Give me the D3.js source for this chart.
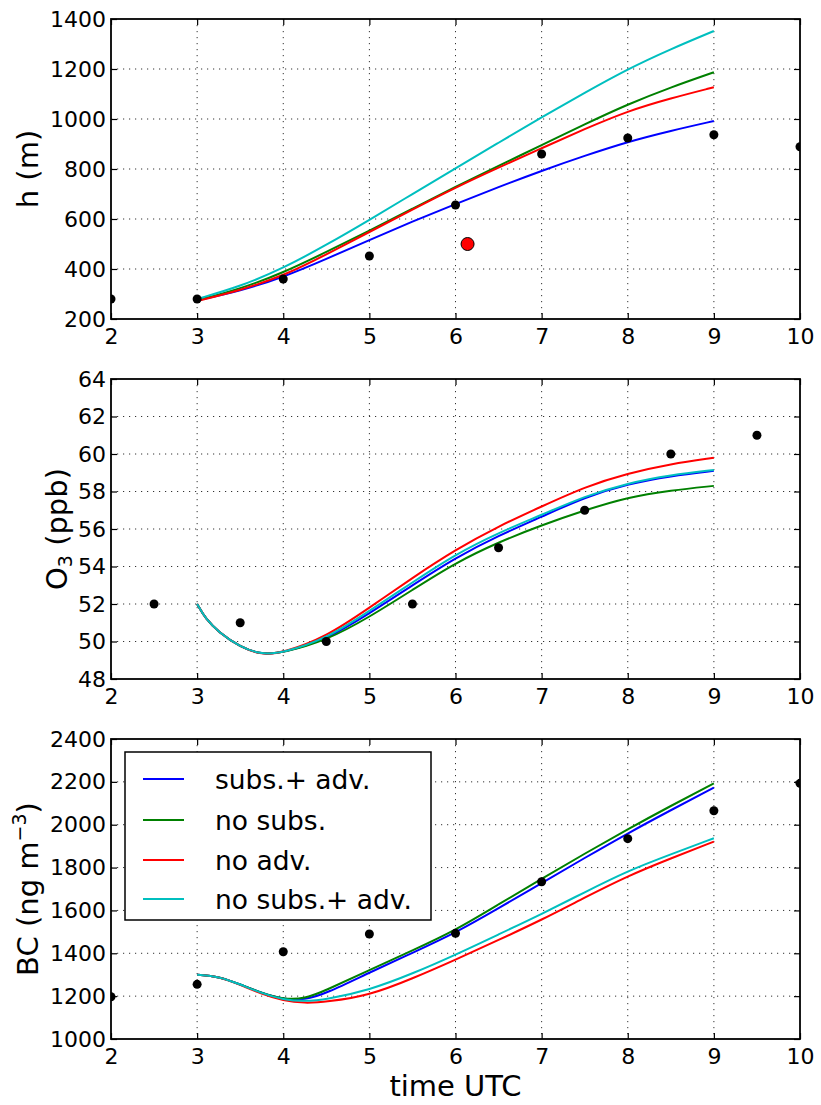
<!DOCTYPE html>
<html><head><meta charset="utf-8">
<script src="https://cdn.jsdelivr.net/npm/d3@7"></script>
<style>html,body{margin:0;padding:0;background:#fff;}svg{display:block;}text{font-family:"DejaVu Sans",sans-serif;fill:#000;}</style>
</head><body>
<script>
// ---------- data ----------
const seriesNames = ["subs.+ adv.", "no subs.", "no adv.", "no subs.+ adv."];
const seriesColors = ["#0000ff", "#008000", "#ff0000", "#00bfbf"];

// Panel 1: boundary-layer height h (m)
const hTimes = [3, 3.5, 4, 4.5, 5, 5.5, 6, 6.5, 7, 7.5, 8, 8.5, 9];
const hBlue  = [275, 312, 367, 440, 516, 590, 660, 728, 793, 853, 909, 953, 992];
const hGreen = [275, 320, 385, 468, 553, 641, 729, 813, 895, 979, 1059, 1127, 1187];
const hRed   = [272, 315, 372, 458, 548, 638, 726, 806, 883, 960, 1032, 1083, 1127];
const hCyan  = [280, 330, 403, 496, 596, 700, 803, 905, 1007, 1105, 1200, 1280, 1352];
const hObsT  = [2, 3, 4, 5, 6, 7, 8, 9, 10];
const hObs   = [280, 280, 360, 452, 656, 860, 924, 937, 889];
const hMarkT = [6.14];
const hMark  = [500];
const hTicks = [200, 400, 600, 800, 1000, 1200, 1400];

// Panel 2: O3 (ppb)
const oTimes = [3, 3.1, 3.25, 3.5, 3.75, 4, 4.5, 5, 5.5, 6, 6.5, 7, 7.5, 8, 8.5, 9];
const oBlue  = [52.0, 51.2, 50.5, 49.7, 49.3, 49.4, 50.1, 51.5, 53.0, 54.47, 55.65, 56.65, 57.7, 58.4, 58.83, 59.1];
const oGreen = [52.0, 51.2, 50.5, 49.7, 49.3, 49.4, 50.05, 51.3, 52.75, 54.2, 55.3, 56.2, 57.0, 57.7, 58.06, 58.3];
const oRed   = [52.0, 51.2, 50.5, 49.7, 49.28, 49.4, 50.25, 51.8, 53.4, 54.9, 56.15, 57.2, 58.25, 58.97, 59.47, 59.8];
const oCyan  = [52.0, 51.2, 50.5, 49.7, 49.3, 49.4, 50.15, 51.63, 53.15, 54.65, 55.8, 56.75, 57.75, 58.45, 58.88, 59.15];
const oObsT  = [2.5, 3.5, 4.5, 5.5, 6.5, 7.5, 8.5, 9.5];
const oObs   = [52, 51, 50, 52, 55, 57, 60, 61];
const oTicks = [48, 50, 52, 54, 56, 58, 60, 62, 64];

// Panel 3: BC (ng m-3)
const bTimes = [3, 3.25, 3.5, 3.75, 4, 4.25, 4.5, 5, 5.5, 6, 6.5, 7, 7.5, 8, 8.5, 9];
const bBlue  = [1300, 1292, 1255, 1215, 1185, 1182, 1213, 1310, 1402, 1495, 1610, 1728, 1845, 1960, 2068, 2173];
const bGreen = [1300, 1292, 1255, 1215, 1185, 1187, 1228, 1322, 1413, 1507, 1628, 1748, 1865, 1979, 2088, 2193];
const bRed   = [1300, 1292, 1253, 1210, 1178, 1167, 1173, 1203, 1282, 1370, 1462, 1556, 1660, 1761, 1843, 1921];
const bCyan  = [1300, 1292, 1255, 1213, 1183, 1175, 1185, 1228, 1305, 1393, 1488, 1583, 1685, 1785, 1862, 1937];
const bObsT  = [2, 3, 4, 5, 6, 7, 8, 9, 10];
const bObs   = [1197, 1255, 1407, 1490, 1493, 1734, 1935, 2065, 2193];
const bTicks = [1000, 1200, 1400, 1600, 1800, 2000, 2200, 2400];

const xTicks = [2, 3, 4, 5, 6, 7, 8, 9, 10];

// ---------- layout ----------
const W = 821, H = 1105;
const L = 111, R = 800, PH = 300;
const tops = [19, 379, 739];

const svg = d3.select("body").append("svg").attr("width", W).attr("height", H);
const x = d3.scaleLinear().domain([2, 10]).range([0, R - L]);
const line = (xs, ys, yScale) => d3.line().curve(d3.curveBasis)
  .x((d, i) => x(xs[i])).y(d => yScale(d))(ys);

const panels = [
  {top: tops[0], dom: [200, 1400], ticks: hTicks, times: hTimes, ser: [hBlue, hGreen, hRed, hCyan],
   obsT: hObsT, obs: hObs, label: "h", labelX: 28},
  {top: tops[1], dom: [48, 64], ticks: oTicks, times: oTimes, ser: [oBlue, oGreen, oRed, oCyan],
   obsT: oObsT, obs: oObs, label: "o3", labelX: 57},
  {top: tops[2], dom: [1000, 2400], ticks: bTicks, times: bTimes, ser: [bBlue, bGreen, bRed, bCyan],
   obsT: bObsT, obs: bObs, label: "bc", labelX: 28}
];

panels.forEach((p, pi) => {
  const y = d3.scaleLinear().domain(p.dom).range([PH, 0]);
  const g = svg.append("g").attr("transform", `translate(${L},${p.top})`);
  const cid = "clip" + pi;
  g.append("clipPath").attr("id", cid).append("rect").attr("width", R - L).attr("height", PH);

  // grid
  const grid = g.append("g").attr("stroke", "#333").attr("stroke-width", 1).attr("stroke-dasharray", "1.2,4.8");
  grid.selectAll(".gx").data(xTicks.slice(1, -1)).join("line")
    .attr("x1", d => x(d)).attr("x2", d => x(d)).attr("y1", 0).attr("y2", PH);
  grid.selectAll(".gy").data(p.ticks.slice(1, -1)).join("line")
    .attr("y1", d => y(d)).attr("y2", d => y(d)).attr("x1", 0).attr("x2", R - L);

  // series lines
  const lg = g.append("g").attr("clip-path", `url(#${cid})`);
  p.ser.forEach((s, si) => {
    lg.append("path").attr("d", line(p.times, s, y)).attr("fill", "none")
      .attr("stroke", seriesColors[si]).attr("stroke-width", 2);
  });
  // observations
  lg.selectAll(".obs").data(p.obs).join("circle")
    .attr("cx", (d, i) => x(p.obsT[i])).attr("cy", d => y(d)).attr("r", 4.5).attr("fill", "#000");
  if (pi === 0) {
    lg.selectAll(".mark").data(hMark).join("circle")
      .attr("cx", (d, i) => x(hMarkT[i])).attr("cy", d => y(d)).attr("r", 6.5)
      .attr("fill", "#ff0000").attr("stroke", "#000").attr("stroke-width", 1);
  }

  // axes
  const fs = "22px";
  const ax = g.append("g").attr("transform", `translate(0,${PH})`)
    .call(d3.axisBottom(x).tickValues(xTicks).tickFormat(d3.format("d")).tickSizeInner(-6).tickSizeOuter(0).tickPadding(9));
  const ay = g.append("g")
    .call(d3.axisLeft(y).tickValues(p.ticks).tickFormat(d3.format("d")).tickSizeInner(-6).tickSizeOuter(0).tickPadding(5));
  const at = g.append("g")
    .call(d3.axisTop(x).tickValues(xTicks).tickFormat("").tickSizeInner(-6).tickSizeOuter(0));
  const ar = g.append("g").attr("transform", `translate(${R - L},0)`)
    .call(d3.axisRight(y).tickValues(p.ticks).tickFormat("").tickSizeInner(-6).tickSizeOuter(0));
  [ax, ay, at, ar].forEach(a => {
    a.select(".domain").remove();
    a.selectAll(".tick line").attr("stroke", "#000").attr("stroke-width", 1.2);
    a.selectAll("text").attr("font-size", fs).attr("font-family", "DejaVu Sans").attr("fill", "#000");
  });

  // frame
  g.append("rect").attr("width", R - L).attr("height", PH).attr("fill", "none")
    .attr("stroke", "#000").attr("stroke-width", 1.8);

  // y label
  const yl = svg.append("text").attr("transform", `translate(${p.labelX},${p.top + PH / 2}) rotate(-90)`)
    .attr("text-anchor", "middle").attr("dy", "0.35em").attr("font-size", "29px");
  if (p.label === "h") {
    yl.text("h (m)");
  } else if (p.label === "o3") {
    yl.append("tspan").text("O");
    yl.append("tspan").attr("font-size", "19px").attr("dy", "5").text("3");
    yl.append("tspan").attr("dy", "-5").text(" (ppb)");
  } else {
    yl.append("tspan").text("BC (ng m");
    yl.append("tspan").attr("font-size", "19px").attr("dy", "-12").text("\u22123");
    yl.append("tspan").attr("dy", "12").text(")");
  }

  // legend in last panel
  if (pi === 2) {
    const lgd = svg.append("g");
    lgd.append("rect").attr("x", 125).attr("y", 752).attr("width", 306).attr("height", 168)
      .attr("fill", "#fff").attr("stroke", "#000").attr("stroke-width", 1.5);
    const rows = [779, 820, 860, 899];
    seriesNames.forEach((n, i) => {
      lgd.append("line").attr("x1", 143).attr("x2", 184).attr("y1", rows[i]).attr("y2", rows[i])
        .attr("stroke", seriesColors[i]).attr("stroke-width", 2);
      lgd.append("text").attr("x", 215).attr("y", rows[i]).attr("dy", "0.36em")
        .attr("font-size", "26.5px").text(n);
    });
  }
});

// x label
svg.append("text").attr("x", (L + R) / 2).attr("y", 1096).attr("text-anchor", "middle")
  .attr("font-size", "29px").text("time UTC");
</script>
</body></html>
